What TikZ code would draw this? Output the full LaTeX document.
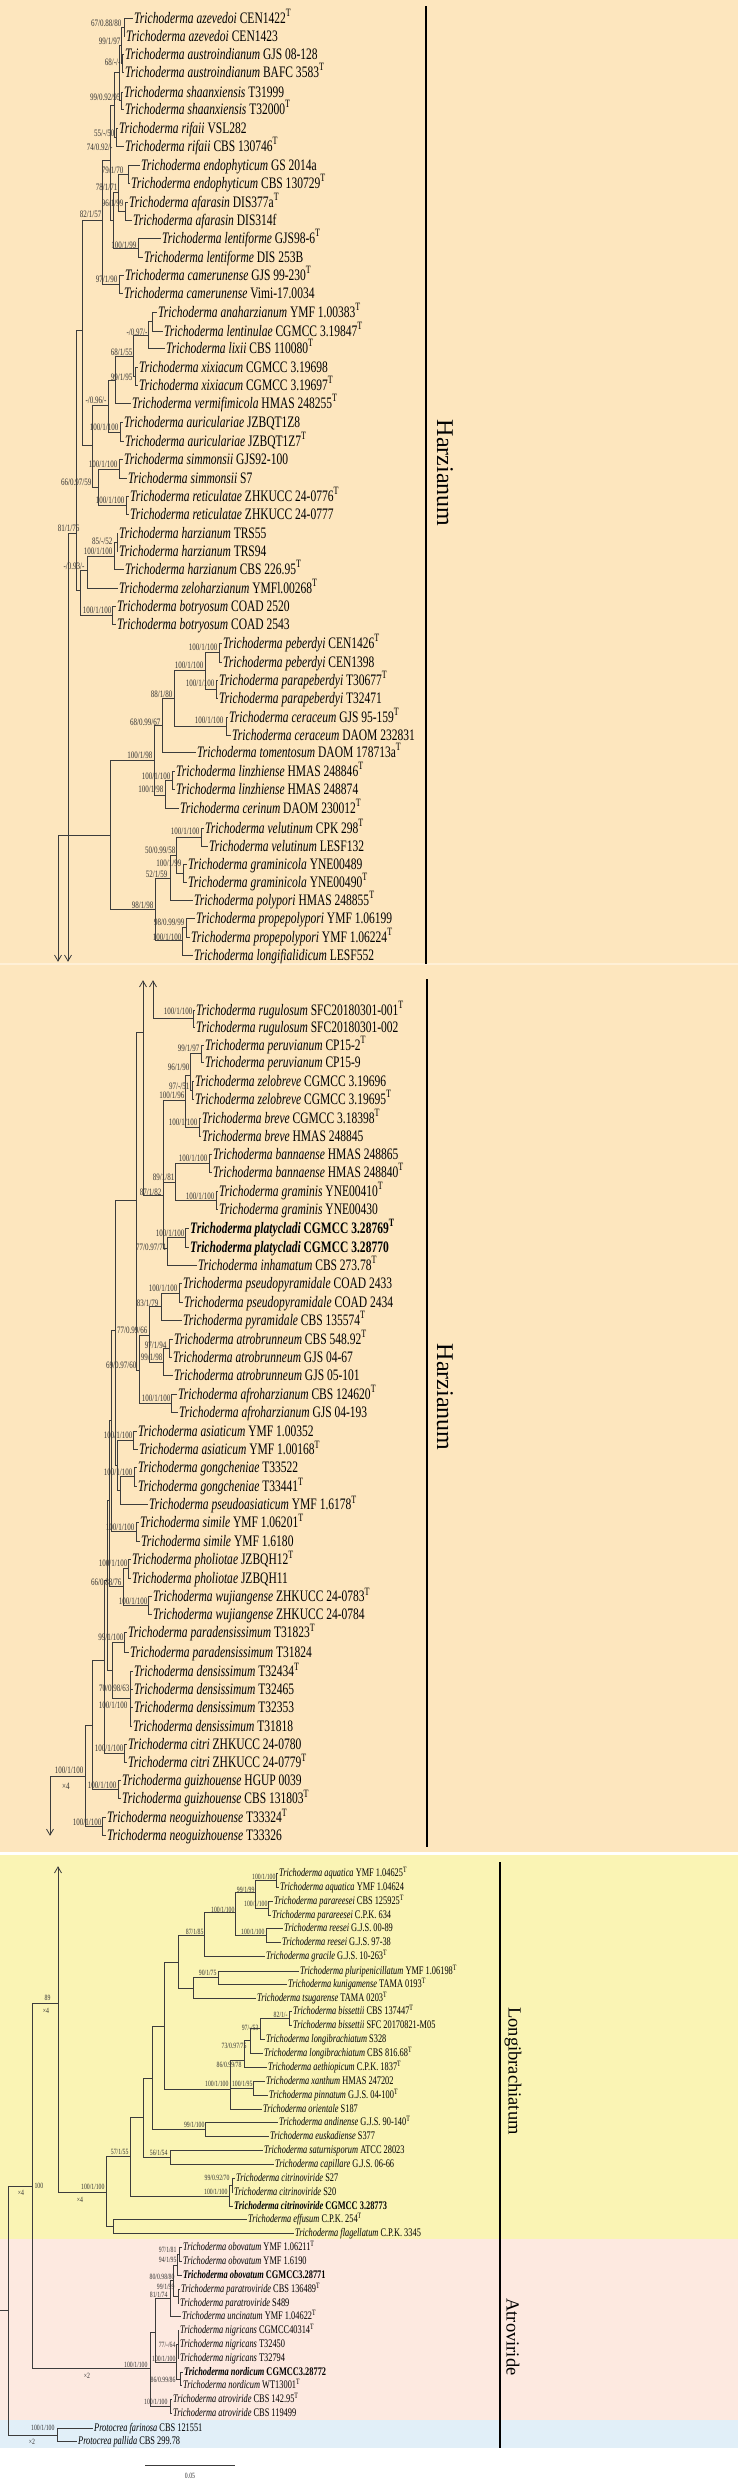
\documentclass[tikz,border=0pt]{standalone}
\usepackage{fontspec}
\setmainfont{Liberation Serif}
\newfontfamily\cond[FakeStretch=0.72]{Liberation Serif}
\usetikzlibrary{arrows.meta}
\definecolor{bgor}{RGB}{253,230,190}
\definecolor{bgorl}{RGB}{255,240,215}
\definecolor{bgye}{RGB}{250,244,180}
\definecolor{bgpk}{RGB}{253,233,224}
\definecolor{bgbl}{RGB}{225,239,248}
\definecolor{ln}{RGB}{60,60,60}
\newcommand\ty{\textsuperscript{T}}
\newcounter{lbc}
\tikzset{
 taxon/.style={anchor=west, inner xsep=1pt, inner ysep=0pt, font={\cond\fontsize{16}{16}\selectfont}, text height=10.5pt, text depth=0pt},
 taxs/.style={taxon, font={\cond\fontsize{11.6}{11.6}\selectfont}, text height=7.6pt},
 bsl/.style={anchor=east, inner sep=0.3pt, font={\cond\fontsize{9.8}{9.8}\selectfont}, text height=6.6pt, text depth=0pt, text=black!80},
 bss/.style={bsl, font={\cond\fontsize{8}{8}\selectfont}, text height=5.4pt},
 inode/.style={inner sep=0pt, minimum size=0pt, shape=rectangle},
 br/.style={draw=ln, line width=0.8pt},
 arr/.style={br, -{Straight Barb[length=6pt,width=7pt]}},
 cladebar/.style={line width=1.6pt, black},
 cname/.style={rotate=-90, font={\fontsize{24}{24}\selectfont}},
 cnames/.style={rotate=-90, font={\fontsize{18.5}{18.5}\selectfont}},
}
\newcommand\tx[6][taxon]{\node[#1] (#2) at (#3,#4) {\textit{Trichoderma #5} #6};}
\newcommand\txb[6][taxon]{\node[#1] (#2) at (#3,#4) {\textbf{\textit{Trichoderma #5} #6}};}
\newcommand\IN[3]{\node[inode] (#1) at (#2,#3) {};}
\newcommand\ED[2]{\foreach \ch in {#2} {\draw[br] (#1) |- (\ch.west);}}
\newcommand\LB[4][bsl]{\stepcounter{lbc}\node[#1] (lb\thelbc) at (#2,#3) {#4};}
\begin{document}
\begin{tikzpicture}[x=1pt,y=-1pt]
\useasboundingbox (0,0) rectangle (738,2482);
\fill[bgor] (0,0) rectangle (738,1852);
\fill[bgorl] (0,963) rectangle (738,965);
\fill[bgye] (0,1855) rectangle (738,2239);
\fill[bgpk] (0,2239) rectangle (738,2420);
\fill[bgbl] (0,2420) rectangle (738,2448);
% ---------------- panel 1 tips
\tx{t1}{133}{18}{azevedoi}{CEN1422\ty}
\tx{t2}{125}{36}{azevedoi}{CEN1423}
\tx{t3}{124}{54}{austroindianum}{GJS 08-128}
\tx{t4}{124}{72}{austroindianum}{BAFC 3583\ty}
\tx{t5}{123}{92}{shaanxiensis}{T31999}
\tx{t6}{124}{109}{shaanxiensis}{T32000\ty}
\tx{t7}{118}{128}{rifaii}{VSL282}
\tx{t8}{124}{146}{rifaii}{CBS 130746\ty}
\tx{t9}{140}{165}{endophyticum}{GS 2014a}
\tx{t10}{130}{183}{endophyticum}{CBS 130729\ty}
\tx{t11}{128}{202}{afarasin}{DIS377a\ty}
\tx{t12}{132}{220}{afarasin}{DIS314f}
\tx{t13}{161}{238}{lentiforme}{GJS98-6\ty}
\tx{t14}{143}{257}{lentiforme}{DIS 253B}
\tx{t15}{124}{275}{camerunense}{GJS 99-230\ty}
\tx{t16}{123}{293}{camerunense}{Vimi-17.0034}
\tx{t17}{157}{312}{anaharzianum}{YMF 1.00383\ty}
\tx{t18}{163}{331}{lentinulae}{CGMCC 3.19847\ty}
\tx{t19}{165}{348}{lixii}{CBS 110080\ty}
\tx{t20}{138}{367}{xixiacum}{CGMCC 3.19698}
\tx{t21}{138}{385}{xixiacum}{CGMCC 3.19697\ty}
\tx{t22}{131}{403}{vermifimicola}{HMAS 248255\ty}
\tx{t23}{123}{422}{auriculariae}{JZBQT1Z8}
\tx{t24}{124}{441}{auriculariae}{JZBQT1Z7\ty}
\tx{t25}{123}{459}{simmonsii}{GJS92-100}
\tx{t26}{127}{478}{simmonsii}{S7}
\tx{t27}{129}{496}{reticulatae}{ZHKUCC 24-0776\ty}
\tx{t28}{129}{514}{reticulatae}{ZHKUCC 24-0777}
\tx{t29}{118}{533}{harzianum}{TRS55}
\tx{t30}{118}{551}{harzianum}{TRS94}
\tx{t31}{124}{569}{harzianum}{CBS 226.95\ty}
\tx{t32}{118}{588}{zeloharzianum}{YMFl.00268\ty}
\tx{t33}{116}{606}{botryosum}{COAD 2520}
\tx{t34}{116}{624}{botryosum}{COAD 2543}
\tx{t35}{222}{643}{peberdyi}{CEN1426\ty}
\tx{t36}{222}{662}{peberdyi}{CEN1398}
\tx{t37}{218}{680}{parapeberdyi}{T30677\ty}
\tx{t38}{218}{698}{parapeberdyi}{T32471}
\tx{t39}{228}{717}{ceraceum}{GJS 95-159\ty}
\tx{t40}{231}{735}{ceraceum}{DAOM 232831}
\tx{t41}{196}{752}{tomentosum}{DAOM 178713a\ty}
\tx{t42}{175}{771}{linzhiense}{HMAS 248846\ty}
\tx{t43}{175}{789}{linzhiense}{HMAS 248874}
\tx{t44}{179}{808}{cerinum}{DAOM 230012\ty}
\tx{t45}{204}{828}{velutinum}{CPK 298\ty}
\tx{t46}{208}{846}{velutinum}{LESF132}
\tx{t47}{187}{864}{graminicola}{YNE00489}
\tx{t48}{187}{882}{graminicola}{YNE00490\ty}
\tx{t49}{193}{900}{polypori}{HMAS 248855\ty}
\tx{t50}{195}{918}{propepolypori}{YMF 1.06199}
\tx{t51}{190}{937}{propepolypori}{YMF 1.06224\ty}
\tx{t52}{193}{955}{longifialidicum}{LESF552}
% ---------------- panel 2 tips
\tx{t53}{195}{1010}{rugulosum}{SFC20180301-001\ty}
\tx{t54}{195}{1027}{rugulosum}{SFC20180301-002}
\tx{t55}{204}{1045}{peruvianum}{CP15-2\ty}
\tx{t56}{204}{1062}{peruvianum}{CP15-9}
\tx{t57}{194}{1081}{zelobreve}{CGMCC 3.19696}
\tx{t58}{194}{1099}{zelobreve}{CGMCC 3.19695\ty}
\tx{t59}{201}{1118}{breve}{CGMCC 3.18398\ty}
\tx{t60}{201}{1136}{breve}{HMAS 248845}
\tx{t61}{212}{1154}{bannaense}{HMAS 248865}
\tx{t62}{212}{1172}{bannaense}{HMAS 248840\ty}
\tx{t63}{218}{1191}{graminis}{YNE00410\ty}
\tx{t64}{218}{1209}{graminis}{YNE00430}
\txb{t65}{189}{1228}{platycladi}{CGMCC 3.28769\ty}
\txb{t66}{189}{1247}{platycladi}{CGMCC 3.28770}
\tx{t67}{197}{1265}{inhamatum}{CBS 273.78\ty}
\tx{t68}{182}{1283}{pseudopyramidale}{COAD 2433}
\tx{t69}{183}{1302}{pseudopyramidale}{COAD 2434}
\tx{t70}{182}{1320}{pyramidale}{CBS 135574\ty}
\tx{t71}{173}{1339}{atrobrunneum}{CBS 548.92\ty}
\tx{t72}{172}{1357}{atrobrunneum}{GJS 04-67}
\tx{t73}{173}{1375}{atrobrunneum}{GJS 05-101}
\tx{t74}{177}{1394}{afroharzianum}{CBS 124620\ty}
\tx{t75}{178}{1412}{afroharzianum}{GJS 04-193}
\tx{t76}{137}{1431}{asiaticum}{YMF 1.00352}
\tx{t77}{138}{1449}{asiaticum}{YMF 1.00168\ty}
\tx{t78}{137}{1467}{gongcheniae}{T33522}
\tx{t79}{137}{1486}{gongcheniae}{T33441\ty}
\tx{t80}{148}{1504}{pseudoasiaticum}{YMF 1.6178\ty}
\tx{t81}{139}{1522}{simile}{YMF 1.06201\ty}
\tx{t82}{140}{1541}{simile}{YMF 1.6180}
\tx{t83}{131}{1559}{pholiotae}{JZBQH12\ty}
\tx{t84}{131}{1578}{pholiotae}{JZBQH11}
\tx{t85}{152}{1596}{wujiangense}{ZHKUCC 24-0783\ty}
\tx{t86}{152}{1614}{wujiangense}{ZHKUCC 24-0784}
\tx{t87}{127}{1632}{paradensissimum}{T31823\ty}
\tx{t88}{129}{1652}{paradensissimum}{T31824}
\tx{t89}{133}{1671}{densissimum}{T32434\ty}
\tx{t90}{133}{1689}{densissimum}{T32465}
\tx{t91}{133}{1707}{densissimum}{T32353}
\tx{t92}{132}{1726}{densissimum}{T31818}
\tx{t93}{127}{1744}{citri}{ZHKUCC 24-0780}
\tx{t94}{127}{1762}{citri}{ZHKUCC 24-0779\ty}
\tx{t95}{121}{1780}{guizhouense}{HGUP 0039}
\tx{t96}{121}{1798}{guizhouense}{CBS 131803\ty}
\tx{t97}{106}{1817}{neoguizhouense}{T33324\ty}
\tx{t98}{106}{1835}{neoguizhouense}{T33326}
% ---------------- panel 3 tips
\tx[taxs]{t99}{278}{1873}{aquatica}{YMF 1.04625\ty}
\tx[taxs]{t100}{279}{1887}{aquatica}{YMF 1.04624}
\tx[taxs]{t101}{273}{1901}{parareesei}{CBS 125925\ty}
\tx[taxs]{t102}{271}{1915}{parareesei}{C.P.K. 634}
\tx[taxs]{t103}{283}{1928}{reesei}{G.J.S. 00-89}
\tx[taxs]{t104}{281}{1942}{reesei}{G.J.S. 97-38}
\tx[taxs]{t105}{265}{1956}{gracile}{G.J.S. 10-263\ty}
\tx[taxs]{t106}{299}{1971}{pluripenicillatum}{YMF 1.06198\ty}
\tx[taxs]{t107}{287}{1984}{kunigamense}{TAMA 0193\ty}
\tx[taxs]{t108}{256}{1998}{tsugarense}{TAMA 0203\ty}
\tx[taxs]{t109}{292}{2011}{bissettii}{CBS 137447\ty}
\tx[taxs]{t110}{292}{2025}{bissettii}{SFC 20170821-M05}
\tx[taxs]{t111}{265}{2039}{longibrachiatum}{S328}
\tx[taxs]{t112}{263}{2053}{longibrachiatum}{CBS 816.68\ty}
\tx[taxs]{t113}{267}{2067}{aethiopicum}{C.P.K. 1837\ty}
\tx[taxs]{t114}{265}{2081}{xanthum}{HMAS 247202}
\tx[taxs]{t115}{268}{2095}{pinnatum}{G.J.S. 04-100\ty}
\tx[taxs]{t116}{262}{2109}{orientale}{S187}
\tx[taxs]{t117}{278}{2122}{andinense}{G.J.S. 90-140\ty}
\tx[taxs]{t118}{269}{2136}{euskadiense}{S377}
\tx[taxs]{t119}{263}{2150}{saturnisporum}{ATCC 28023}
\tx[taxs]{t120}{274}{2164}{capillare}{G.J.S. 06-66}
\tx[taxs]{t121}{235}{2178}{citrinoviride}{S27}
\tx[taxs]{t122}{233}{2192}{citrinoviride}{S20}
\txb[taxs]{t123}{233}{2206}{citrinoviride}{CGMCC 3.28773}
\tx[taxs]{t124}{247}{2219}{effusum}{C.P.K. 254\ty}
\tx[taxs]{t125}{294}{2233}{flagellatum}{C.P.K. 3345}
\tx[taxs]{t126}{182}{2247}{obovatum}{YMF 1.06211\ty}
\tx[taxs]{t127}{182}{2261}{obovatum}{YMF 1.6190}
\txb[taxs]{t128}{182}{2275}{obovatum}{CGMCC3.28771}
\tx[taxs]{t129}{180}{2289}{paratroviride}{CBS 136489\ty}
\tx[taxs]{t130}{179}{2303}{paratroviride}{S489}
\tx[taxs]{t131}{181}{2316}{uncinatum}{YMF 1.04622\ty}
\tx[taxs]{t132}{179}{2330}{nigricans}{CGMCC40314\ty}
\tx[taxs]{t133}{179}{2344}{nigricans}{T32450}
\tx[taxs]{t134}{179}{2358}{nigricans}{T32794}
\txb[taxs]{t135}{183}{2372}{nordicum}{CGMCC3.28772}
\tx[taxs]{t136}{182}{2385}{nordicum}{WT13001\ty}
\tx[taxs]{t137}{172}{2399}{atroviride}{CBS 142.95\ty}
\tx[taxs]{t138}{172}{2413}{atroviride}{CBS 119499}
\node[taxs] (t139) at (93,2428) {\textit{Protocrea farinosa} CBS 121551};
\node[taxs] (t140) at (77,2441) {\textit{Protocrea pallida} CBS 299.78};
% ---------------- internal nodes panel 1
\IN{Azev}{124}{27}\IN{Aust}{122}{63}\IN{AA}{121}{45}\IN{Shaan}{121}{100}
\IN{N99}{119}{72}\IN{Rif}{116}{137}\IN{N55}{114}{105}\IN{Endo}{128}{174}
\IN{Afar}{125}{211}\IN{EA}{118}{192}\IN{Lent}{138}{248}\IN{EAL}{113}{220}
\IN{N74}{110}{160}\IN{Cam}{119}{284}\IN{N82}{102}{220}\IN{AL}{152}{321}
\IN{ALL}{148}{335}\IN{Xix}{135}{376}\IN{N68}{133}{356}\IN{N99b}{115}{380}
\IN{Auric}{120}{432}\IN{N96b}{108}{405}\IN{Simm}{119}{469}\IN{Ret}{126}{505}
\IN{SR2}{98}{487}\IN{N66}{92}{445}\IN{NT}{82}{330}\IN{HarzA}{117}{542}
\IN{Harz}{114}{556}\IN{HZ}{87}{570}\IN{Botry}{112}{615}\IN{HZB}{80}{590}
\IN{N81}{76}{533}\IN{Pa}{68}{533}\IN{Pd}{68}{962}
\IN{Peb}{219}{652}\IN{Parap}{216}{689}\IN{PP}{205}{670}\IN{Cer}{226}{726}
\IN{N88}{174}{698}\IN{N68b}{162}{725}\IN{Lin}{172}{780}\IN{LinC}{165}{795}
\IN{N100c}{154}{760}\IN{Vel}{201}{837}\IN{Gram1}{183}{873}\IN{N50}{176}{855}
\IN{N52}{170}{878}\IN{Prop}{186}{927}\IN{PropL}{182}{940}\IN{N98}{155}{909}
\IN{N110}{110}{835}\IN{Qa}{58}{835}\IN{Qd}{58}{962}
% edges panel 1
\ED{Azev}{t1,t2}\ED{Aust}{t3,t4}\ED{AA}{Azev,Aust}\ED{Shaan}{t5,t6}
\ED{N99}{AA,Shaan}\ED{Rif}{t7,t8}\ED{N55}{N99,Rif}\ED{Endo}{t9,t10}
\ED{Afar}{t11,t12}\ED{EA}{Endo,Afar}\ED{Lent}{t13,t14}\ED{EAL}{EA,Lent}
\ED{N74}{N55,EAL}\ED{Cam}{t15,t16}\ED{N82}{N74,Cam}\ED{AL}{t17,t18}
\ED{ALL}{AL,t19}\ED{Xix}{t20,t21}\ED{N68}{ALL,Xix}\ED{N99b}{N68,t22}
\ED{Auric}{t23,t24}\ED{N96b}{N99b,Auric}\ED{Simm}{t25,t26}\ED{Ret}{t27,t28}
\ED{SR2}{Simm,Ret}\ED{N66}{N96b,SR2}\ED{NT}{N82,N66}\ED{HarzA}{t29,t30}
\ED{Harz}{HarzA,t31}\ED{HZ}{Harz,t32}\ED{Botry}{t33,t34}\ED{HZB}{HZ,Botry}
\ED{N81}{NT,HZB}
\draw[br] (Pa) -- (N81);
\draw[arr] (Pa) -- (Pd);
\ED{Peb}{t35,t36}\ED{Parap}{t37,t38}\ED{PP}{Peb,Parap}\ED{Cer}{t39,t40}
\ED{N88}{PP,Cer}\ED{N68b}{N88,t41}\ED{Lin}{t42,t43}\ED{LinC}{Lin,t44}
\ED{N100c}{N68b,LinC}\ED{Vel}{t45,t46}\ED{Gram1}{t47,t48}\ED{N50}{Vel,Gram1}
\ED{N52}{N50,t49}\ED{Prop}{t50,t51}\ED{PropL}{Prop,t52}\ED{N98}{N52,PropL}
\ED{N110}{N100c,N98}
\draw[br] (Qa) -- (N110);
\draw[arr] (Qa) -- (Qd);
% ---------------- internal nodes panel 2
\IN{Ra}{153}{980}\IN{Rb}{153}{1018}\IN{Rug}{193}{1018}
\IN{Xa}{143}{980}\IN{X}{143}{1032}
\IN{Per}{201}{1053}\IN{Zelo}{192}{1090}\IN{N96a}{190}{1075}\IN{Breve}{199}{1127}
\IN{N96}{185}{1100}\IN{Bann}{209}{1163}\IN{Gram}{216}{1200}\IN{N89}{175}{1182}
\IN{Platy}{185}{1237}\IN{N77}{167}{1248}\IN{N87}{163}{1195}
\IN{PsPyr}{179}{1293}\IN{Pyr}{161}{1306}\IN{AtroA}{169}{1348}\IN{AtroB}{163}{1362}
\IN{N77b}{149}{1335}\IN{Afro}{171}{1403}\IN{N69}{139}{1370}\IN{Z}{136}{1200}
\IN{Asiat}{133}{1440}\IN{Gong}{134}{1476}\IN{GongP}{120}{1490}\IN{AsG}{117}{1465}
\IN{Y1}{115}{1330}\IN{Sim}{136}{1531}\IN{C1}{111}{1420}\IN{Phol}{128}{1568}
\IN{Wuj}{148}{1605}\IN{PW}{123}{1586}\IN{C2}{109}{1500}\IN{Parad}{124}{1642}
\IN{Dens}{130}{1698}\IN{PD}{112}{1670}\IN{C3}{107}{1580}\IN{Citri}{124}{1753}
\IN{C4}{104}{1660}\IN{Guiz}{118}{1789}\IN{H1}{92}{1725}\IN{Neo}{102}{1826}
\IN{H}{85}{1776}\IN{Ha}{50}{1776}\IN{Hd}{50}{1836}
% edges panel 2
\draw[arr] (Rb) -- (Ra);
\draw[br] (Rb) -- (Rug);
\ED{Rug}{t53,t54}
\draw[arr] (X) -- (Xa);
\ED{X}{N87}
\ED{Per}{t55,t56}\ED{Zelo}{t57,t58}\ED{N96a}{Per,Zelo}\ED{Breve}{t59,t60}
\ED{N96}{N96a,Breve}\ED{Bann}{t61,t62}\ED{Gram}{t63,t64}\ED{N89}{Bann,Gram}
\ED{Platy}{t65,t66}\ED{N77}{Platy,t67}\ED{N87}{N96,N89,N77}
\ED{PsPyr}{t68,t69}\ED{Pyr}{PsPyr,t70}\ED{AtroA}{t71,t72}\ED{AtroB}{AtroA,t73}
\ED{N77b}{Pyr,AtroB}\ED{Afro}{t74,t75}\ED{N69}{N77b,Afro}\ED{Z}{X,N69}
\ED{Asiat}{t76,t77}\ED{Gong}{t78,t79}\ED{GongP}{Gong,t80}\ED{AsG}{Asiat,GongP}
\ED{Y1}{Z,AsG}\ED{Sim}{t81,t82}\ED{C1}{Y1,Sim}\ED{Phol}{t83,t84}
\ED{Wuj}{t85,t86}\ED{PW}{Phol,Wuj}\ED{C2}{C1,PW}\ED{Parad}{t87,t88}
\ED{Dens}{t89,t90,t91,t92}\ED{PD}{Parad,Dens}\ED{C3}{C2,PD}\ED{Citri}{t93,t94}
\ED{C4}{C3,Citri}\ED{Guiz}{t95,t96}\ED{H1}{C4,Guiz}\ED{Neo}{t97,t98}
\ED{H}{H1,Neo}
\draw[br] (Ha) -- (H);
\draw[arr] (Ha) -- (Hd);
% ---------------- internal nodes panel 3
\IN{Aq}{276}{1880}\IN{Parar}{268}{1908}\IN{N99c}{255}{1892}\IN{Rees}{266}{1935}
\IN{N100d}{235}{1912}\IN{Lg}{204}{1935}\IN{Pk}{218}{1977}\IN{Lh}{193}{1988}
\IN{Le}{178}{1962}\IN{N82b}{289}{2018}\IN{N97}{260}{2028}\IN{N73}{250}{2040}
\IN{N86}{244}{2060}\IN{N95}{253}{2088}\IN{Lf}{230}{2089}\IN{Ld}{164}{2026}
\IN{Land}{205}{2129}\IN{Lc}{152}{2078}\IN{Lsat}{170}{2157}\IN{Lb}{143}{2117}
\IN{N99d}{232}{2185}\IN{Lcitr}{229}{2196}\IN{La}{130}{2156}\IN{Leff}{113}{2226}
\IN{Lroot}{106}{2192}\IN{Up}{58}{2003}\IN{Upa}{58}{1866}
\IN{Ob1}{179}{2254}\IN{Ob2}{177}{2265}\IN{Par2}{178}{2296}\IN{ObA}{173}{2280}
\IN{Obo}{170}{2298}\IN{NigS}{178}{2344}\IN{Nord}{180}{2379}\IN{Nig}{176}{2362}
\IN{AtrA}{155}{2332}\IN{AtrB}{170}{2406}\IN{Atr}{150}{2368}\IN{N100}{32}{2186}
\IN{Prot}{57}{2435}\IN{Root}{8}{2310}\IN{R0}{0}{2310}
% edges panel 3
\ED{Aq}{t99,t100}\ED{Parar}{t101,t102}\ED{N99c}{Aq,Parar}\ED{Rees}{t103,t104}
\ED{N100d}{N99c,Rees}\ED{Lg}{N100d,t105}\ED{Pk}{t106,t107}\ED{Lh}{Pk,t108}
\ED{Le}{Lg,Lh}\ED{N82b}{t109,t110}\ED{N97}{N82b,t111}\ED{N73}{N97,t112}
\ED{N86}{N73,t113}\ED{N95}{t114,t115}\ED{Lf}{N86,N95,t116}\ED{Ld}{Le,Lf}
\ED{Land}{t117,t118}\ED{Lc}{Ld,Land}\ED{Lsat}{t119,t120}\ED{Lb}{Lc,Lsat}
\ED{N99d}{t121,t122}\ED{Lcitr}{N99d,t123}\ED{La}{Lb,Lcitr}\ED{Leff}{t124,t125}
\ED{Lroot}{La,Leff}
\draw[arr] (Up) -- (Upa);
\ED{Up}{Lroot}
\ED{Ob1}{t126,t127}\ED{Ob2}{Ob1,t128}\ED{Par2}{t129,t130}\ED{ObA}{Ob2,Par2}
\ED{Obo}{ObA,t131}\ED{NigS}{t132,t133,t134}\ED{Nord}{t135,t136}\ED{Nig}{NigS,Nord}
\ED{AtrA}{Obo,Nig}\ED{AtrB}{t137,t138}\ED{Atr}{AtrA,AtrB}\ED{N100}{Up,Atr}
\ED{Prot}{t139,t140}\ED{Root}{N100,Prot}
\draw[br] (R0) -- (Root);
% ---------------- support labels panel 1
\LB{122}{23}{67/0.88/80}\LB{121}{41}{99/1/97}\LB{121}{62}{68/-/-}
\LB{121}{97}{99/0.92/95}\LB{115}{133}{55/-/50}\LB{113}{147}{74/0.92/-}
\LB{124}{170}{79/1/70}\LB{118}{187}{78/1/71}\LB{124}{203}{96/1/99}
\LB{102}{214}{82/1/57}\LB{137}{245}{100/1/99}\LB{118}{279}{97/1/90}
\LB{148}{332}{-/0.97/-}\LB{133}{352}{68/1/55}\LB{133}{377}{99/1/95}
\LB{107}{400}{-/0.96/-}\LB{119}{427}{100/1/100}\LB{118}{464}{100/1/100}
\LB{92}{482}{66/0.97/59}\LB{125}{500}{100/1/100}\LB{80}{528}{81/1/76}
\LB{113}{541}{85/-/52}\LB{113}{551}{100/1/100}\LB{85}{566}{-/0.93/-}
\LB{112}{610}{100/1/100}\LB{218}{647}{100/1/100}\LB{204}{665}{100/1/100}
\LB{215}{683}{100/1/100}\LB{173}{694}{88/1/80}\LB{224}{720}{100/1/100}
\LB{161}{722}{68/0.99/67}\LB{153}{755}{100/1/98}\LB{171}{776}{100/1/100}
\LB{164}{789}{100/1/98}\LB{200}{831}{100/1/100}\LB{176}{850}{50/0.99/58}
\LB{182}{863}{100/1/99}\LB{168}{874}{52/1/59}\LB{154}{905}{98/1/98}
\LB{185}{922}{98/0.99/99}\LB{182}{937}{100/1/100}
% ---------------- support labels panel 2
\LB{193}{1011}{100/1/100}\LB{200}{1048}{99/1/97}\LB{190}{1067}{96/1/90}
\LB{190}{1086}{97/-/51}\LB{185}{1095}{100/1/96}\LB{198}{1122}{100/1/100}
\LB{208}{1158}{100/1/100}\LB{175}{1177}{89/1/81}\LB{162}{1192}{87/1/82}
\LB{215}{1196}{100/1/100}\LB{185}{1233}{100/1/100}\LB{167}{1247}{77/0.97/71}
\LB{178}{1288}{100/1/100}\LB{159}{1303}{83/1/79}\LB{148}{1330}{77/0.99/66}
\LB{167}{1345}{97/1/94}\LB{163}{1357}{99/1/98}\LB{137}{1365}{69/0.97/60}
\LB{171}{1398}{100/1/100}\LB{133}{1435}{100/1/100}\LB{133}{1472}{100/1/100}
\LB{135}{1527}{100/1/100}\LB{128}{1563}{100/1/100}\LB{122}{1582}{66/0.88/76}
\LB{148}{1601}{100/1/100}\LB{124}{1637}{99/1/100}\LB{130}{1688}{70/0.98/63}
\LB{128}{1705}{100/1/100}\LB{124}{1748}{100/1/100}\LB{84}{1770}{100/1/100}
\LB[bsl,anchor=center]{66}{1786}{×4}
\LB{117}{1785}{100/1/100}\LB{102}{1822}{100/1/100}
% ---------------- support labels panel 3
\LB[bss]{276}{1877}{100/1/100}\LB[bss]{255}{1890}{99/1/99}\LB[bss]{268}{1904}{100/1/100}
\LB[bss]{235}{1910}{100/1/100}\LB[bss]{204}{1932}{87/1/85}\LB[bss]{265}{1932}{100/1/100}
\LB[bss]{217}{1973}{90/1/75}\LB[bss]{288}{2015}{82/1/-}\LB[bss]{259}{2028}{97/-/53}
\LB[bss]{247}{2046}{73/0.97/75}\LB[bss]{51}{1998}{89}\LB[bss,anchor=center]{46}{2011}{×4}
\LB[bss]{242}{2065}{86/0.99/78}\LB[bss]{229}{2084}{100/1/100}\LB[bss]{253}{2084}{100/1/95}
\LB[bss]{205}{2125}{99/1/100}\LB[bss]{129}{2152}{57/1/55}\LB[bss]{168}{2153}{56/1/54}
\LB[bss]{230}{2178}{99/0.92/70}\LB[bss]{228}{2192}{100/1/100}
\LB[bss]{105}{2187}{100/1/100}\LB[bss,anchor=center]{80}{2200}{×4}
\LB[bss,anchor=west]{34}{2186}{100}\LB[bss,anchor=center]{21}{2193}{×4}
\LB[bss]{177}{2250}{97/1/81}\LB[bss]{177}{2260}{94/1/95}\LB[bss]{175}{2277}{80/0.98/80}
\LB[bss]{175}{2287}{99/1/99}\LB[bss]{168}{2295}{81/1/74}\LB[bss]{176}{2345}{77/-/64}
\LB[bss]{176}{2359}{100/1/100}\LB[bss]{148}{2365}{100/1/100}\LB[bss,anchor=center]{87}{2376}{×2}
\LB[bss]{176}{2380}{86/0.99/86}\LB[bss]{168}{2402}{100/1/100}
\LB[bss]{55}{2428}{100/1/100}\LB[bss,anchor=center]{32}{2442}{×2}
% ---------------- clade bars and names
\draw[cladebar] (426,6) -- (426,964);
\node[cname] (cn1) at (445,473) {Harzianum};
\draw[cladebar] (427,979) -- (427,1847);
\node[cname] (cn2) at (445,1397) {Harzianum};
\draw[cladebar] (500,1862) -- (500,2448);
\node[cnames] (cn3) at (513,2071) {Longibrachiatum};
\node[cnames] (cn4) at (513,2337) {Atroviride};
% ---------------- scale bar
\coordinate (s0) at (145,2465);
\coordinate (s1) at (235,2465);
\draw[br] (s0) -- (s1);
\node[bss,anchor=center] (sl) at (190,2476) {0.05};
\end{tikzpicture}
\end{document}
